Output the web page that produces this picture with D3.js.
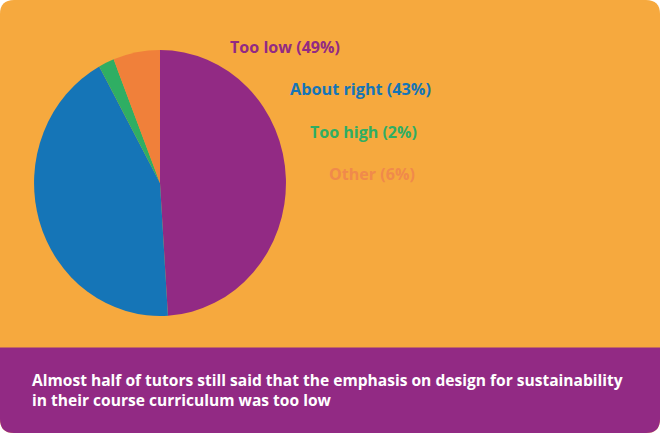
<!DOCTYPE html>
<html><head><meta charset="utf-8">
<script src="https://cdn.jsdelivr.net/npm/d3@7"></script>
<style>html,body{margin:0;padding:0;background:#fff;}svg{display:block;}</style>
</head><body>
<script>
const categories = ["Too low", "About right", "Too high", "Other"];
const values = [49, 43, 2, 6];
const colors = ["#922A84", "#1575B7", "#2FAE63", "#F0803A"];
const labelColors = ["#922A84", "#1575B7", "#2FAE63", "#F08A4B"];
const caption = ["Almost half of tutors still said that the emphasis on design for sustainability",
                 "in their course curriculum was too low"];

const W = 660, H = 433;
const svg = d3.select("body").append("svg").attr("width", W).attr("height", H);

// card background
const r = 14;
svg.append("path")
  .attr("d", `M0,${r} Q0,0 ${r},0 H${W-r} Q${W},0 ${W},${r} V${H-r} Q${W},${H} ${W-r},${H} H${r} Q0,${H} 0,${H-r} Z`)
  .attr("fill", "#F6A93E");
// caption band
const bandTop = 347.5;
svg.append("path")
  .attr("d", `M0,${bandTop} H${W} V${H-r} Q${W},${H} ${W-r},${H} H${r} Q0,${H} 0,${H-r} Z`)
  .attr("fill", "#922A84");

// pie
const pie = d3.pie().sort(null).value(d => d);
const arcs = pie(values);
const arc = d3.arc().innerRadius(0).outerRadius(1);
const g = svg.append("g").attr("transform", "translate(160,183) scale(126,133)");
g.selectAll("path").data(arcs).join("path")
  .attr("d", arc)
  .attr("fill", (d, i) => colors[i]);

// labels
const font = "'Open Sans', 'Lato', sans-serif";
const labelX = [230, 290, 310, 329];
const labelW = [110, 141, 107, 86];
const labels = svg.append("g");
categories.forEach((c, i) => {
  const t = labels.append("text")
    .attr("x", labelX[i]).attr("y", 53 + i * 42.3)
    .attr("fill", labelColors[i])
    .attr("font-family", font).attr("font-weight", 700)
    .attr("font-size", 16)
    .text(`${c} (${values[i]}%)`);
  const w = t.node().getComputedTextLength();
  t.attr("font-size", 16 * labelW[i] / w);
});

// caption (one text element, two lines)
const cap = svg.append("text")
  .attr("fill", "#fff").attr("font-family", font).attr("font-weight", 700)
  .attr("font-size", 15);
const t0 = cap.append("tspan").attr("x", 32).attr("y", 386).text(caption[0]);
const fs = 15 * 591 / t0.node().getComputedTextLength();
cap.attr("font-size", fs);
cap.append("tspan").attr("x", 32).attr("y", 406.2).text(caption[1]);
</script>
</body></html>
